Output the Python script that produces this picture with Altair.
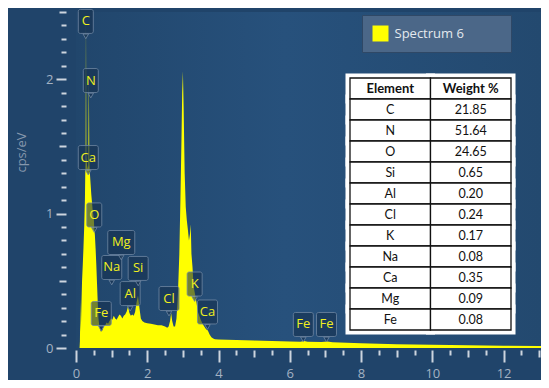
import altair as alt
import pandas as pd

# ---------------- data ----------------
series_name = "Spectrum 6"

energy = [0.00, 0.10, 0.11, 0.125, 0.135, 0.15, 0.17, 0.19, 0.21, 0.23, 0.25, 0.26, 0.27, 0.28, 0.29,
          0.31, 0.33, 0.345, 0.36, 0.375, 0.39, 0.41, 0.43, 0.45, 0.47, 0.49, 0.50, 0.51, 0.53, 0.55,
          0.57, 0.59, 0.61, 0.63, 0.66, 0.70, 0.74, 0.78, 0.82, 0.86, 0.90, 0.94, 0.98, 1.02, 1.06,
          1.10, 1.14, 1.18, 1.22, 1.26, 1.30, 1.34, 1.38, 1.42, 1.46, 1.50, 1.54, 1.58, 1.62, 1.66,
          1.70, 1.74, 1.78, 1.82, 1.86, 1.92, 2.00, 2.10, 2.20, 2.30, 2.40, 2.50, 2.56, 2.60, 2.64,
          2.67, 2.70, 2.74, 2.78, 2.82, 2.86, 2.90, 2.93, 2.96, 2.98, 3.00, 3.02, 3.05, 3.08, 3.11,
          3.14, 3.17, 3.20, 3.22, 3.24, 3.27, 3.30, 3.34, 3.38, 3.42, 3.46, 3.50, 3.55, 3.60, 3.65,
          3.70, 3.75, 3.80, 3.85, 3.90, 4.00, 4.50, 5.00, 5.50, 6.00, 6.30, 6.40, 6.50, 6.90, 7.05,
          7.20, 8.00, 9.00, 10.00, 11.00, 12.00, 13.00, 13.30]
cps = [0.0, 0.0, 0.05, 0.36, 0.12, 0.30, 0.50, 0.62, 0.75, 0.90, 1.10, 1.30, 1.40, 2.48, 1.42,
       1.36, 1.33, 1.36, 2.02, 1.38, 1.30, 1.22, 1.14, 1.08, 1.02, 0.98, 0.97, 0.90, 0.84, 0.74,
       0.62, 0.48, 0.34, 0.22, 0.15, 0.12, 0.13, 0.16, 0.17, 0.19, 0.18, 0.20, 0.22, 0.21, 0.24,
       0.22, 0.21, 0.23, 0.25, 0.24, 0.22, 0.24, 0.25, 0.27, 0.31, 0.26, 0.24, 0.25, 0.24, 0.27,
       0.34, 0.39, 0.30, 0.22, 0.20, 0.19, 0.185, 0.18, 0.175, 0.17, 0.17, 0.16, 0.15, 0.16, 0.20,
       0.26, 0.20, 0.16, 0.16, 0.22, 0.40, 0.70, 1.10, 1.55, 1.90, 2.06, 1.80, 1.30, 1.05, 0.95,
       0.88, 0.80, 0.85, 0.92, 0.70, 0.60, 0.46, 0.40, 0.34, 0.27, 0.24, 0.21, 0.18, 0.16, 0.14,
       0.13, 0.10, 0.08, 0.07, 0.065, 0.063, 0.06, 0.055, 0.052, 0.048, 0.047, 0.052, 0.046, 0.044, 0.048,
       0.042, 0.035, 0.028, 0.024, 0.020, 0.017, 0.015, 0.014]

label_elements = ["C", "N", "Ca", "O", "Mg", "Na", "Si", "Al", "Fe", "Cl", "K", "Ca", "Fe", "Fe"]
label_energy = [0.275, 0.415, 0.345, 0.513, 1.27, 1.003, 1.745, 1.52, 0.709, 2.61, 3.33, 3.69, 6.38, 7.03]
label_cps = [2.43, 1.99, 1.417, 0.99, 0.785, 0.599, 0.592, 0.405, 0.257, 0.368, 0.476, 0.268, 0.175, 0.175]

table_header = ["Element", "Weight %"]
table_elements = ["C", "N", "O", "Si", "Al", "Cl", "K", "Na", "Ca", "Mg", "Fe"]
table_weights = ["21.85", "51.64", "24.65", "0.65", "0.20", "0.24", "0.17", "0.08", "0.35", "0.09", "0.08"]

x_ticks = [0, 0.5, 1, 1.5, 2, 2.5, 3, 3.5, 4, 4.5, 5, 5.5, 6, 6.5, 7, 7.5, 8, 8.5, 9, 9.5,
           10, 10.5, 11, 11.5, 12, 12.5, 13]
y_ticks = [0, 0.1, 0.2, 0.3, 0.4, 0.5, 0.6, 0.7, 0.8, 0.9, 1, 1.1, 1.2, 1.3, 1.4, 1.5, 1.6,
           1.7, 1.8, 1.9, 2, 2.1, 2.2, 2.3, 2.4, 2.5]

# ---------------- frames ----------------
spec_df = pd.DataFrame({"E": energy, "cps": cps, "series": series_name})
lab_df = pd.DataFrame({"el": label_elements, "E": label_energy, "V": label_cps})

rows = []
for c, h in enumerate(table_header):
    rows.append({"row": 0, "col": h, "text": h, "hdr": 1})
for i, (el, w) in enumerate(zip(table_elements, table_weights)):
    rows.append({"row": i + 1, "col": table_header[0], "text": el, "hdr": 0})
    rows.append({"row": i + 1, "col": table_header[1], "text": w, "hdr": 0})
tab_df = pd.DataFrame(rows)

BG = "#20446a"
TICK = "#cdd5de"
LAB = "#a3b2c3"
FONT = "Open Sans"

xscale = alt.Scale(domain=[0, 13.05], nice=False, zero=False)
yscale = alt.Scale(domain=[0, 2.5], nice=False)

x_axis = alt.Axis(
    values=x_ticks, tickCount=200, title=None, grid=False, domain=False, offset=2,
    labelExpr="datum.value % 2 === 0 ? format(datum.value, 'd') : ''",
    labelOverlap=False, labelFlush=False, labelColor=LAB, labelFont=FONT, labelFontSize=13,
    labelPadding=5, tickColor=TICK, tickWidth=2,
    tickSize={"condition": [{"test": "datum.value % 2 === 0", "value": 12},
                            {"test": "datum.value % 1 === 0", "value": 7},
                            {"test": "true", "value": 5}], "value": 5},
)
y_axis = alt.Axis(
    values=y_ticks, tickCount=200, title="cps/eV", grid=False, domain=False, offset=10,
    labelExpr="datum.value % 1 === 0 ? format(datum.value, 'd') : ''",
    labelOverlap=False, labelFlush=False, labelColor=LAB, labelFont=FONT, labelFontSize=13,
    labelPadding=3, tickColor=TICK, tickWidth=2,
    tickSize={"condition": [{"test": "datum.value % 1 === 0", "value": 10},
                            {"test": "abs((datum.value * 10) % 5) < 0.01", "value": 7},
                            {"test": "true", "value": 5}], "value": 5},
    titleColor="#8597ad", titleFont=FONT, titleFontSize=13, titleFontWeight="normal",
    titleX=-45, titleY=140, titleAngle=-90, titleBaseline="middle", titleAlign="center",
)

legend = alt.Legend(
    title="\u00a0", titleOrient="right", titlePadding=37,
    orient="none", legendX=286, legendY=3,
    fillColor="#4b6788", strokeColor="#2f4866", padding=10.5,
    symbolType="square", symbolSize=256, symbolStrokeWidth=0, symbolOpacity=1,
    labelColor="#e4e9ee", labelFont=FONT, labelFontSize=13, labelOffset=6,
)

# plot-area backdrop with a soft horizontal gradient
backdrop = alt.Chart(pd.DataFrame({"k": [0]})).mark_rect(
    color=alt.LinearGradient(
        gradient="linear", x1=0, y1=0, x2=1, y2=0,
        stops=[alt.GradientStop(offset=0, color="#21466c"),
               alt.GradientStop(offset=0.45, color="#27517c"),
               alt.GradientStop(offset=1, color="#23496f")]),
).encode(x=alt.value(0), x2=alt.value("width"), y=alt.value(0), y2=alt.value("height"))

area = alt.Chart(spec_df).mark_area(clip=True, interpolate="linear", opacity=1).encode(
    x=alt.X("E:Q", scale=xscale, axis=x_axis),
    y=alt.Y("cps:Q", scale=yscale, axis=y_axis),
    color=alt.Color("series:N", scale=alt.Scale(domain=[series_name], range=["#ffff00"]), legend=legend),
)

lab_base = alt.Chart(lab_df)
enc_box = dict(x="E:Q", x2="E:Q", y="V:Q", y2="V:Q")
box_style = dict(fill="#15304e", fillOpacity=0.6, stroke="#6f87a3", strokeOpacity=0.8,
                 strokeWidth=1, cornerRadius=2, yOffset=-12, y2Offset=12)

box1 = lab_base.transform_filter("length(datum.el) === 1").mark_rect(
    xOffset=-7.5, x2Offset=7.5, **box_style).encode(**enc_box)
box2 = lab_base.transform_filter("length(datum.el) === 2 && datum.el !== 'Mg'").mark_rect(
    xOffset=-10, x2Offset=10, **box_style).encode(**enc_box)
box3 = lab_base.transform_filter("datum.el === 'Mg'").mark_rect(
    xOffset=-13.5, x2Offset=13.5, **box_style).encode(**enc_box)
pointer = lab_base.mark_point(shape="triangle-down", filled=True, size=30, yOffset=15,
                              fill="#15304e", fillOpacity=0.6, stroke="#6f87a3",
                              strokeOpacity=0.8, strokeWidth=1).encode(x="E:Q", y="V:Q")
lab_text = lab_base.mark_text(color="#f0f020", font=FONT, fontSize=13, baseline="middle",
                              align="center", dy=0).encode(x="E:Q", y="V:Q", text="el:N")

spectrum = alt.layer(area, box1, box2, box3, pointer, lab_text)

# ---------------- table ----------------
tx = alt.Scale(domain=table_header, range=[274, 435], paddingInner=0, paddingOuter=0)
ty = alt.Scale(domain=list(range(12)), range=[66, 318], paddingInner=0, paddingOuter=0)
tbase = alt.Chart(tab_df)
t_enc = dict(x=alt.X("col:N", scale=tx, axis=None), y=alt.Y("row:O", scale=ty, axis=None))
t_bg = tbase.mark_rect(fill="white", stroke="white", strokeWidth=9, strokeJoin="miter").encode(**t_enc)
t_cells = tbase.mark_rect(fill="white", stroke="#111111", strokeWidth=1.3).encode(**t_enc)
t_hdr = tbase.transform_filter("datum.hdr === 1").mark_text(
    font="Lato", fontSize=13, fontWeight="bold", color="#111111", baseline="middle").encode(
    text="text:N", **t_enc)
t_body = tbase.transform_filter("datum.hdr === 0").mark_text(
    font="Lato", fontSize=12.5, color="#111111", baseline="middle").encode(
    text="text:N", **t_enc)
table = alt.layer(t_bg, t_cells, t_hdr, t_body)

chart = alt.layer(backdrop, spectrum, table).resolve_scale(x="independent", y="independent").properties(
    width=465, height=336,
    padding={"left": 68, "top": 4, "right": 0, "bottom": 32},
    autosize=alt.AutoSizeParams(type="none"),
    background=BG,
).configure_view(stroke=None)

chart.save("out.html", embed_options={"renderer": "svg", "actions": False})
